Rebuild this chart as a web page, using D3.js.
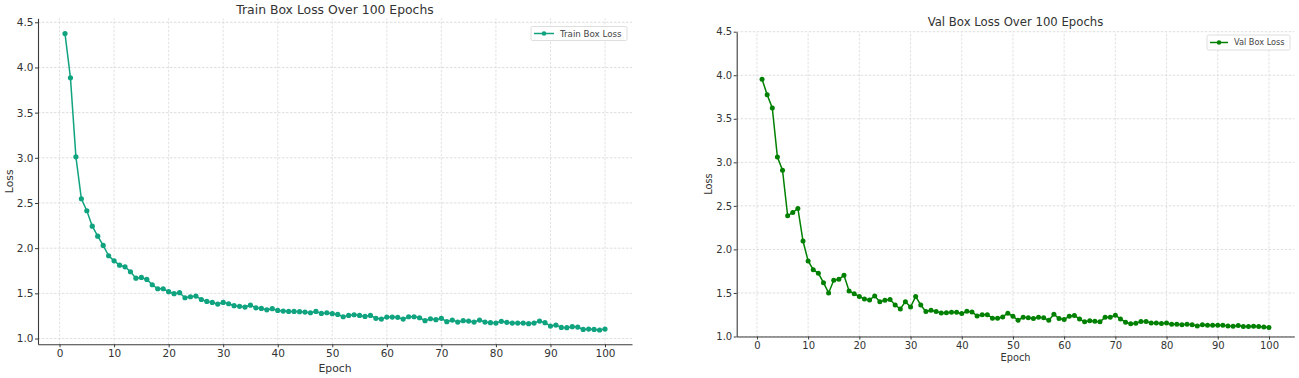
<!DOCTYPE html>
<html>
<head>
<meta charset="utf-8">
<script src="https://cdn.jsdelivr.net/npm/d3@7"></script>
<style>
  html, body { margin: 0; padding: 0; background: #fff; }
  svg { display: block; font-family: "DejaVu Sans", sans-serif; }
</style>
</head>
<body>
<svg id="chart" width="1299" height="378"></svg>
<script>
// ---- Data ----
const epochs = d3.range(1, 101);
const trainBoxLoss = [
  4.375, 3.885, 3.011, 2.547, 2.414, 2.243, 2.133, 2.030, 1.916, 1.860,
  1.812, 1.794, 1.739, 1.668, 1.676, 1.654, 1.595, 1.551, 1.551, 1.518,
  1.496, 1.507, 1.451, 1.462, 1.470, 1.432, 1.410, 1.400, 1.381, 1.400,
  1.385, 1.363, 1.356, 1.348, 1.369, 1.340, 1.333, 1.318, 1.330, 1.311,
  1.304, 1.300, 1.300, 1.297, 1.293, 1.285, 1.300, 1.278, 1.285, 1.275,
  1.267, 1.241, 1.256, 1.263, 1.256, 1.245, 1.256, 1.223, 1.215, 1.237,
  1.237, 1.234, 1.215, 1.241, 1.241, 1.230, 1.197, 1.219, 1.208, 1.223,
  1.186, 1.204, 1.182, 1.197, 1.193, 1.182, 1.204, 1.182, 1.175, 1.171,
  1.190, 1.179, 1.171, 1.171, 1.171, 1.164, 1.171, 1.193, 1.175, 1.138,
  1.149, 1.123, 1.120, 1.131, 1.127, 1.101, 1.105, 1.101, 1.094, 1.105
];
const valBoxLoss = [
  3.955, 3.775, 3.625, 3.060, 2.910, 2.386, 2.424, 2.470, 2.096, 1.867,
  1.767, 1.725, 1.618, 1.500, 1.645, 1.656, 1.702, 1.523, 1.492, 1.458,
  1.431, 1.420, 1.466, 1.400, 1.416, 1.424, 1.362, 1.316, 1.400, 1.339,
  1.458, 1.362, 1.286, 1.301, 1.286, 1.270, 1.274, 1.278, 1.278, 1.263,
  1.290, 1.282, 1.236, 1.251, 1.251, 1.210, 1.210, 1.225, 1.267, 1.232,
  1.186, 1.221, 1.214, 1.206, 1.221, 1.214, 1.187, 1.255, 1.206, 1.195,
  1.233, 1.240, 1.202, 1.168, 1.180, 1.176, 1.168, 1.221, 1.221, 1.244,
  1.202, 1.164, 1.145, 1.152, 1.172, 1.172, 1.156, 1.156, 1.149, 1.156,
  1.141, 1.141, 1.134, 1.141, 1.134, 1.122, 1.134, 1.130, 1.130, 1.130,
  1.130, 1.122, 1.118, 1.126, 1.114, 1.114, 1.118, 1.114, 1.110, 1.103
];
const xTickValues = [0, 10, 20, 30, 40, 50, 60, 70, 80, 90, 100];
const yTickValues = [1.0, 1.5, 2.0, 2.5, 3.0, 3.5, 4.0, 4.5];
const trainTitle = "Train Box Loss Over 100 Epochs";
const valTitle = "Val Box Loss Over 100 Epochs";
const trainLabel = "Train Box Loss";
const valLabel = "Val Box Loss";
const xLabel = "Epoch";
const yLabel = "Loss";

// ---- Drawing ----
const svg = d3.select("#chart");

function drawPanel(opt) {
  const g = svg.append("g");
  const x = d3.scaleLinear().domain(opt.xDomain).range(opt.xRange);
  const y = d3.scaleLinear().domain(opt.yDomain).range(opt.yRange);
  const [x0, x1] = opt.xRange;
  const [yb, yt] = opt.yRange;

  // grid
  g.append("g").selectAll("line").data(xTickValues).join("line")
    .attr("x1", d => x(d)).attr("x2", d => x(d))
    .attr("y1", yb).attr("y2", yt)
    .attr("stroke", "#dadada").attr("stroke-width", 0.8)
    .attr("stroke-dasharray", "2.5,1.5");
  g.append("g").selectAll("line").data(yTickValues).join("line")
    .attr("x1", x0).attr("x2", x1)
    .attr("y1", d => y(d)).attr("y2", d => y(d))
    .attr("stroke", "#d6d6d6").attr("stroke-width", 0.8)
    .attr("stroke-dasharray", "2.5,1.5");

  // axes
  const xAxis = d3.axisBottom(x).tickValues(xTickValues).tickFormat(d3.format("d"))
    .tickSizeInner(3).tickSizeOuter(0).tickPadding(opt.xPad);
  const yAxis = d3.axisLeft(y).tickValues(yTickValues).tickFormat(d3.format(".1f"))
    .tickSizeInner(3).tickSizeOuter(0).tickPadding(opt.yPad);
  const gx = g.append("g").attr("transform", `translate(0,${yb})`).call(xAxis);
  const gy = g.append("g").attr("transform", `translate(${x0},0)`).call(yAxis);
  [gx, gy].forEach(a => {
    a.select(".domain").attr("stroke", "#3a3a3a").attr("stroke-width", 1.1);
    a.selectAll(".tick line").attr("stroke", "#3a3a3a");
    a.selectAll(".tick text").attr("fill", "#333").attr("font-size", opt.tickSize)
      .attr("font-family", "DejaVu Sans");
  });

  // line + markers
  const line = d3.line().x((d, i) => x(epochs[i])).y(d => y(d));
  g.append("path").datum(opt.values)
    .attr("d", line).attr("fill", "none")
    .attr("stroke", opt.color).attr("stroke-width", 1.5);
  g.append("g").selectAll("circle").data(opt.values).join("circle")
    .attr("cx", (d, i) => x(epochs[i])).attr("cy", d => y(d))
    .attr("r", opt.r).attr("fill", opt.color);

  // title & labels
  g.append("text").attr("x", (x0 + x1) / 2).attr("y", opt.titleY)
    .attr("text-anchor", "middle").attr("font-size", opt.titleSize)
    .attr("fill", "#333").text(opt.title);
  g.append("text").attr("x", (x0 + x1) / 2).attr("y", opt.xLabelY)
    .attr("text-anchor", "middle").attr("font-size", opt.labelSize)
    .attr("fill", "#333").text(xLabel);
  g.append("text")
    .attr("transform", `translate(${opt.yLabelX},${(yb + yt) / 2}) rotate(-90)`)
    .attr("text-anchor", "middle").attr("font-size", opt.labelSize)
    .attr("fill", "#333").text(yLabel);

  // legend
  const L = opt.legend;
  const lg = g.append("g");
  lg.append("rect").attr("x", L.x).attr("y", L.y).attr("width", L.w).attr("height", L.h)
    .attr("rx", 1.5).attr("fill", "#fff").attr("stroke", "#d6d6d6").attr("stroke-width", 0.8);
  lg.append("line").attr("x1", L.x + 3).attr("x2", L.x + 3 + L.lineW)
    .attr("y1", L.y + L.h / 2).attr("y2", L.y + L.h / 2)
    .attr("stroke", opt.color).attr("stroke-width", 1.5);
  lg.append("circle").attr("cx", L.x + 3 + L.lineW / 2).attr("cy", L.y + L.h / 2)
    .attr("r", opt.r * 0.9).attr("fill", opt.color);
  lg.append("text").attr("x", L.x + L.lineW + 9).attr("y", L.y + L.h / 2)
    .attr("dy", "0.35em").attr("font-size", L.fs).attr("fill", "#444").text(opt.label);
}

drawPanel({
  values: trainBoxLoss, color: "#10a37f", title: trainTitle, label: trainLabel,
  xDomain: [-3.95, 104.95], xRange: [38, 632],
  yDomain: [0.936, 4.544], yRange: [344.3, 18.3],
  tickSize: "10.5px", titleSize: "12.4px", labelSize: "10.8px",
  xPad: 2.5, yPad: 1.5, r: 2.6,
  titleY: 14, xLabelY: 371.5, yLabelX: 13,
  legend: { x: 531, y: 26.5, w: 96, h: 14, lineW: 20, fs: "8.7px" }
});

drawPanel({
  values: valBoxLoss, color: "#008000", title: valTitle, label: valLabel,
  xDomain: [-3.95, 104.95], xRange: [736.7, 1294.3],
  yDomain: [1.0, 4.5], yRange: [336.5, 31.7],
  tickSize: "10px", titleSize: "11.7px", labelSize: "9.8px",
  xPad: 2.5, yPad: 1.5, r: 2.5,
  titleY: 25.5, xLabelY: 361, yLabelX: 711.5,
  legend: { x: 1207, y: 35, w: 83, h: 15, lineW: 18, fs: "8.2px" }
});
</script>
</body>
</html>
